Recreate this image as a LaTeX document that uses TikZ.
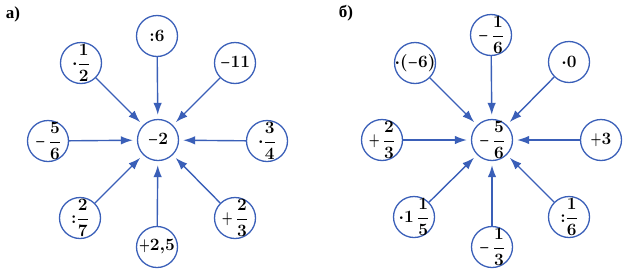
\documentclass[tikz,border=0pt]{standalone}
\usepackage{amsmath}
\usepackage{graphicx}
\usepackage{fontspec}
\newfontfamily\labfont{Liberation Serif}
\usetikzlibrary{arrows.meta}
\definecolor{ablue}{HTML}{3A5FB8}
\newcommand{\fr}[2]{\dfrac{#1}{#2}}
\newcommand{\mm}[1]{\makebox[0pt]{$#1$}}
\newcommand{\mi}{\mathord{\scalebox{0.68}[1]{$-$}}}
\newcommand{\pl}{\mathord{\scalebox{0.72}[1]{$+$}}}
\begin{document}
\begin{tikzpicture}[x=1pt,y=-1pt,
  cnode/.style={circle,draw=ablue,line width=1.3pt,minimum size=41pt,inner sep=0pt,
    font=\fontsize{16}{18}\selectfont\boldmath},
  arr/.style={draw=ablue,line width=1.4pt,-{Latex[length=12pt,width=8.5pt]},shorten >=4pt},
  lab/.style={font=\labfont\bfseries\fontsize{17}{19}\selectfont,inner sep=0pt}]
\useasboundingbox (0,0) rectangle (631,279);
% labels
\node[lab] (la) at (13,14) {а)};
\node[lab] (lb) at (346,13) {б)};
% left diagram
\node[cnode] (a0) at (158,140) {\mm{\mi 2}};
\node[cnode] (a1) at (157,36) {\mm{{:}6}};
\node[cnode] (a2) at (81,63) {\mm{\cdot\fr{1}{2}}};
\node[cnode] (a3) at (235,63) {\mm{\mi 11}};
\node[cnode] (a4) at (48,141) {\mm{\mi\,\fr{5}{6}}};
\node[cnode] (a5) at (267,141) {\mm{\cdot\fr{3}{4}}};
\node[cnode] (a6) at (80,218) {\mm{{:}\fr{2}{7}}};
\node[cnode] (a7) at (157,247) {\mm{\pl 2{,}5}};
\node[cnode] (a8) at (235,218) {\mm{\pl\,\fr{2}{3}}};
\foreach \i in {1,...,8} \draw[arr] (a\i) -- (a0);
% right diagram
\node[cnode] (b0) at (492,140) {\mm{\mi\,\fr{5}{6}}};
\node[cnode] (b1) at (491,35) {\mm{\mi\,\fr{1}{6}}};
\node[cnode] (b2) at (415,63) {\mm{\cdot(\mi 6)}};
\node[cnode] (b3) at (569,62) {\mm{\cdot 0}};
\node[cnode] (b4) at (382,140) {\mm{\pl\,\fr{2}{3}}};
\node[cnode] (b5) at (601,140) {\mm{\pl 3}};
\node[cnode] (b6) at (414,217) {\mm{\cdot1\,\fr{1}{5}}};
\node[cnode] (b7) at (492,247) {\mm{\mi\,\fr{1}{3}}};
\node[cnode] (b8) at (569,217) {\mm{{:}\fr{1}{6}}};
\foreach \i in {1,...,8} \draw[arr] (b\i) -- (b0);
\end{tikzpicture}
\end{document}
